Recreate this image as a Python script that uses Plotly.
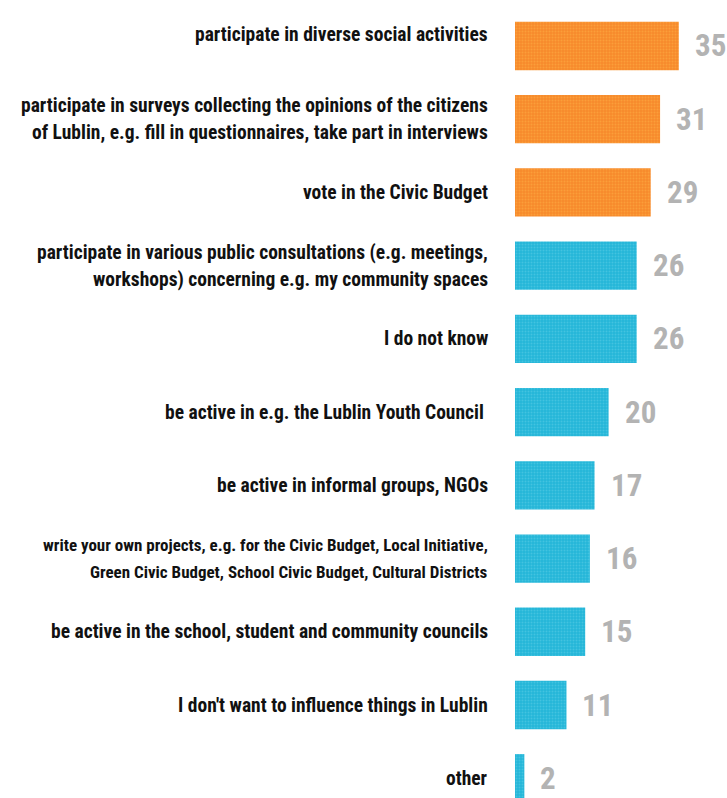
import plotly.graph_objects as go

# Survey answers, top to bottom (multi-line labels split into lines)
labels = [
    ["participate in diverse social activities"],
    ["participate in surveys collecting the opinions of the citizens",
     "of Lublin, e.g. fill in questionnaires, take part in interviews"],
    ["vote in the Civic Budget"],
    ["participate in various public consultations (e.g. meetings,",
     "workshops) concerning e.g. my community spaces"],
    ["I do not know"],
    ["be active in e.g. the Lublin Youth Council "],
    ["be active in informal groups, NGOs"],
    ["write your own projects, e.g. for the Civic Budget, Local Initiative,",
     "Green Civic Budget, School Civic Budget, Cultural Districts"],
    ["be active in the school, student and community councils"],
    ["I don't want to influence things in Lublin"],
    ["other"],
]
values = [35, 31, 29, 26, 26, 20, 17, 16, 15, 11, 2]
highlight_count = 3  # top answers drawn in orange

ORANGE, ORANGE_SPECK = "#f7892c", "#fdb645"
CYAN, CYAN_SPECK = "#24b5d7", "#62d2ea"
LABEL_FONT = "Roboto Condensed, Roboto, sans-serif"

positions = list(range(len(values)))


def grainy_bars(xs, ys, base, speck):
    return go.Bar(
        x=xs, y=ys, orientation="h", width=0.66,
        marker=dict(
            color=base, line=dict(width=0),
            pattern=dict(shape=".", fgcolor=speck, size=3, solidity=0.35,
                         fillmode="overlay"),
        ),
        hoverinfo="skip",
    )


fig = go.Figure([
    grainy_bars(values[:highlight_count], positions[:highlight_count],
                ORANGE, ORANGE_SPECK),
    grainy_bars(values[highlight_count:], positions[highlight_count:],
                CYAN, CYAN_SPECK),
])

annotations = []
for i, (lines, v) in enumerate(zip(labels, values)):
    n = len(lines)
    size = 17 if max(len(s) for s in lines) > 64 else 19.5
    lift = 11 if i == 0 else 0
    for k, line in enumerate(lines):
        annotations.append(dict(
            text=line, xref="paper", x=0, xanchor="right", xshift=-25,
            yref="y", y=i, yanchor="middle",
            yshift=(n - 1) * 13.5 - k * 27 + lift,
            showarrow=False,
            font=dict(family=LABEL_FONT, size=size, color="#111111", weight=700),
        ))
    annotations.append(dict(
        text=str(v), xref="x", x=v, xanchor="left", xshift=14,
        yref="y", y=i, yanchor="middle", showarrow=False,
        font=dict(family=LABEL_FONT, size=31, color="#b3b3b3", weight=700),
    ))

fig.update_layout(
    width=727, height=798,
    margin=dict(l=515, r=0, t=0, b=0),
    paper_bgcolor="white", plot_bgcolor="white",
    showlegend=False, barmode="overlay",
    xaxis=dict(range=[0, 45.3], visible=False, fixedrange=True),
    yaxis=dict(range=[10.27, -0.628], visible=False, fixedrange=True),
    annotations=annotations,
)

fig.write_html("out.html")
